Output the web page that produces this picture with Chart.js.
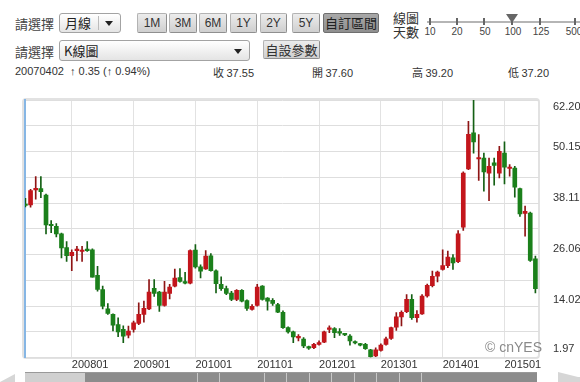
<!DOCTYPE html>
<html><head><meta charset="utf-8">
<script src="https://cdn.jsdelivr.net/npm/chart.js@4.4.1/dist/chart.umd.min.js"></script>
<style>
body{margin:0;width:580px;height:382px;overflow:hidden;background:#fff;font-family:"Liberation Sans",Arial,sans-serif;color:#333;position:relative;}
.a{position:absolute;white-space:nowrap;}
.cjk{font-family:"Noto Sans CJK TC","Liberation Sans",sans-serif;}
.sel{position:absolute;border:1px solid #a3a3a3;border-radius:3px;background:linear-gradient(#ffffff,#e4e4e4);box-sizing:border-box;}
.btn{position:absolute;top:13px;height:20px;box-sizing:border-box;border:1px solid #b3b3b3;border-right-color:#8f8f8f;border-bottom-color:#8f8f8f;border-radius:2px;background:linear-gradient(#ececec,#cfcfcf);font-size:12px;line-height:18px;text-align:center;color:#333;}
.tick{position:absolute;top:18px;width:2px;height:7px;background:#666;}
.tl{position:absolute;top:26px;font-size:10px;width:24px;text-align:center;color:#444;}
</style>
</head><body>
<!-- header row 1 -->
<div class="a cjk" style="left:15px;top:14px;font-size:13px;color:#444;">請選擇</div>
<div class="sel" style="left:59px;top:13px;width:62px;height:20px;">
  <div class="a cjk" style="left:5px;top:0px;font-size:13px;line-height:18px;color:#222;">月線</div>
  <div class="a" style="left:38px;top:2px;width:1px;height:14px;background:#bbb;"></div>
  <div class="a" style="left:45px;top:7px;width:0;height:0;border-left:4px solid transparent;border-right:4px solid transparent;border-top:5px solid #222;"></div>
</div>
<div class="btn" style="left:137px;width:30px;">1M</div>
<div class="btn" style="left:169px;width:28px;">3M</div>
<div class="btn" style="left:199px;width:28px;">6M</div>
<div class="btn" style="left:230px;width:27px;">1Y</div>
<div class="btn" style="left:260px;width:27px;">2Y</div>
<div class="btn" style="left:292px;width:28px;">5Y</div>
<div class="btn cjk" style="left:323px;width:56px;background:linear-gradient(#a8a8a8,#8e8e8e);border-color:#6f6f6f;font-size:13px;color:#222;">自訂區間</div>
<div class="a cjk" style="left:393px;top:11px;font-size:13px;line-height:14px;color:#333;">線圖<br>天數</div>
<div class="a" style="left:427px;top:21px;width:153px;height:2px;background:#b5b5b5;"></div>
<div class="tick" style="left:429px;"></div>
<div class="tick" style="left:456px;"></div>
<div class="tick" style="left:483px;"></div>
<div class="tick" style="left:511px;"></div>
<div class="tick" style="left:539px;"></div>
<div class="tick" style="left:574px;"></div>
<div class="a" style="left:506px;top:14px;width:0;height:0;border-left:6px solid transparent;border-right:6px solid transparent;border-top:9px solid #666;"></div>
<div class="tl" style="left:418px;">10</div>
<div class="tl" style="left:445px;">20</div>
<div class="tl" style="left:473px;">50</div>
<div class="tl" style="left:501px;">100</div>
<div class="tl" style="left:529px;">125</div>
<div class="tl" style="left:562px;">500</div>
<!-- header row 2 -->
<div class="a cjk" style="left:15px;top:42px;font-size:13px;color:#444;">請選擇</div>
<div class="sel" style="left:59px;top:40px;width:191px;height:21px;">
  <div class="a cjk" style="left:4px;top:0px;font-size:13px;line-height:19px;color:#222;">K線圖</div>
  <div class="a" style="left:174px;top:8px;width:0;height:0;border-left:4px solid transparent;border-right:4px solid transparent;border-top:5px solid #222;"></div>
</div>
<div class="btn cjk" style="left:263px;top:40px;width:57px;height:19px;font-size:13px;line-height:17px;">自設參數</div>
<!-- header row 3 -->
<div class="a" style="left:15px;top:65px;font-size:11px;color:#333;">20070402</div>
<div class="a" style="left:70px;top:65px;font-size:11px;color:#333;">↑ 0.35 (↑ 0.94%)</div>
<div class="a cjk" style="left:213px;top:64px;font-size:11px;color:#333;">收 <span style="font-family:'Liberation Sans'">37.55</span></div>
<div class="a cjk" style="left:312px;top:64px;font-size:11px;color:#333;">開 <span style="font-family:'Liberation Sans'">37.60</span></div>
<div class="a cjk" style="left:412px;top:64px;font-size:11px;color:#333;">高 <span style="font-family:'Liberation Sans'">39.20</span></div>
<div class="a cjk" style="left:508px;top:64px;font-size:11px;color:#333;">低 <span style="font-family:'Liberation Sans'">37.20</span></div>
<!-- plot frame -->
<div class="a" style="left:22px;top:98px;width:514px;height:257px;border:2px solid #e2e2e2;border-radius:4px;"></div>
<canvas id="c" width="580" height="277" style="position:absolute;left:0;top:95px;"></canvas>
<div class="a" style="left:485px;top:339px;font-size:14px;color:#8a8a8a;">© cnYES</div>
<!-- scrollbar -->
<div class="a" style="left:25px;top:372px;width:512px;height:10px;background:#d0d0d0;border-top:1px solid #999;box-sizing:border-box;"></div>
<div class="a" style="left:85px;top:373px;width:452px;height:9px;background:#8c8c8c;"></div>
<div class="a" style="left:175px;top:373px;width:250px;height:9px;background:repeating-linear-gradient(90deg,transparent 0,transparent 21.5px,#c8c8c8 21.5px,#c8c8c8 22.5px);"></div>
<div class="a" style="left:0px;top:374px;width:0;height:0;border-top:8px solid transparent;border-right:15px solid #d6d6d6;"></div>
<div class="a" style="left:558px;top:372px;width:0;height:0;border-top:5px solid transparent;border-bottom:5px solid transparent;border-left:20px solid #d6d6d6;"></div>
<div class="a" style="left:558px;top:377px;width:22px;height:5px;background:#d6d6d6;"></div>
<script>
const months = [
 '200704','200705','200706','200707','200708','200709','200710','200711','200712',
 '200801','200802','200803','200804','200805','200806','200807','200808','200809','200810','200811','200812',
 '200901','200902','200903','200904','200905','200906','200907','200908','200909','200910','200911','200912',
 '201001','201002','201003','201004','201005','201006','201007','201008','201009','201010','201011','201012',
 '201101','201102','201103','201104','201105','201106','201107','201108','201109','201110','201111','201112',
 '201201','201202','201203','201204','201205','201206','201207','201208','201209','201210','201211','201212',
 '201301','201302','201303','201304','201305','201306','201307','201308','201309','201310','201311','201312',
 '201401','201402','201403','201404','201405','201406','201407','201408','201409','201410','201411','201412',
 '201501','201502','201503','201504','201505','201506','201507'
];
const openP = [
 37.60,37.69,41.2,41.5,40.0,33.0,32.7,30.9,27.7,25.8,27.0,26.8,27.3,27.2,21.2,17.9,13.4,12.1,9.7,8.6,
 7.25,8.6,10.0,12.1,13.4,18.2,17.3,14.2,17.0,18.7,20.7,19.5,19.4,27.1,23.2,22.7,25.8,22.3,19.1,18.1,
 17.1,15.6,17.7,15.3,13.25,14.2,18.7,15.9,15.35,14.4,12.6,9.0,8.0,6.6,6.3,4.4,4.3,5.1,5.6,8.6,
 8.75,7.9,7.5,7.0,5.7,5.2,5.1,3.8,2.4,3.7,5.1,6.5,9.1,11.5,12.7,15.6,11.3,12.2,16.4,18.8,
 21.0,22.6,23.5,25.3,24.4,32.45,46.1,54.5,48.4,48.6,45.1,47.5,45.1,49.8,46.2,46.3,41.5,35.7,35.8,25.1
];
const highP = [
 39.20,41.3,44.3,44.3,40.2,34.0,33.3,31.1,29.1,27.2,28.0,28.0,29.1,27.4,23.3,18.7,14.6,12.2,11.3,9.4,
 9.35,10.5,14.8,15.2,20.2,20.2,17.5,19.8,19.1,22.7,22.8,21.9,27.2,28.4,23.7,27.0,26.3,22.5,20.9,18.7,
 17.5,17.9,17.9,15.5,14.4,19.1,18.8,16.0,15.8,14.65,12.9,9.2,8.2,7.4,6.65,4.7,5.3,5.9,8.2,9.4,
 9.0,8.75,7.6,7.35,5.9,5.3,5.3,3.9,4.3,5.2,6.8,9.1,12.5,12.9,16.7,16.7,13.0,16.7,19.2,22.2,
 22.2,27.2,26.9,26.1,31.7,45.4,57.2,62.2,54.1,49.8,48.6,48.6,51.4,52.4,47.1,46.7,41.6,37.4,36.0,25.7
];
const lowP = [
 37.20,37.14,39.0,39.4,30.9,31.2,30.2,25.3,24.5,22.3,24.6,24.5,26.8,20.8,17.5,13.4,12.1,8.2,6.9,5.5,
 6.6,7.95,9.7,10.3,13.2,16.3,12.8,14.0,15.7,18.5,19.6,19.2,19.2,22.9,20.6,22.6,22.2,17.1,17.7,16.7,
 15.3,15.3,15.0,13.0,13.1,14.0,15.4,13.1,14.2,12.5,8.8,7.7,5.5,5.9,4.3,3.9,4.1,4.9,5.5,7.8,
 6.65,7.2,7.1,4.9,5.2,4.7,3.9,2.1,2.2,3.5,4.9,6.25,8.35,9.4,12.5,10.9,10.3,12.1,16.1,18.5,
 19.7,22.4,23.0,22.6,24.2,31.7,45.9,49.8,43.4,40.9,38.7,42.3,44.0,42.6,44.4,39.5,35.0,30.4,24.5,17.1
];
const closeP = [
 37.55,41.02,41.5,40.8,33.0,32.8,30.9,27.6,25.8,26.6,27.3,27.1,27.0,20.8,17.9,14.0,12.3,9.6,8.0,7.0,
 8.2,10.1,12.1,13.5,17.3,17.0,14.2,17.3,18.5,20.6,19.8,19.4,27.0,23.2,22.2,25.7,22.3,19.3,18.1,17.0,
 15.6,17.7,15.2,13.5,14.0,18.5,15.6,15.2,14.65,12.6,9.0,8.0,6.8,6.8,4.7,4.2,5.1,5.5,8.0,8.9,
 7.8,7.7,7.3,5.9,5.4,4.9,4.1,2.2,3.8,4.9,6.4,9.0,11.5,12.6,15.6,11.3,12.1,16.4,18.9,21.0,
 22.0,23.5,25.5,24.1,30.9,45.1,54.2,52.4,48.7,45.4,46.7,46.9,50.2,46.5,46.5,41.8,35.6,36.2,24.7,18.1
];
const xTickLabels = ['200801','200901','201001','201101','201201','201301','201401','201501'];
const yTickLabels = ['1.97','14.02','26.06','38.11','50.15','62.20'];

const UP = '#c3161c', UPW = '#8e1414', DN = '#1b801b', DNW = '#146014';
const isUp = closeP.map((c, i) => c > openP[i]);
const yMin = parseFloat(yTickLabels[0]);
const yMax = parseFloat(yTickLabels[yTickLabels.length - 1]);
const plotH = 257.7;
const unitsPerPx = (yMax - yMin) / plotH;
const labelShiftPx = [8.5, 6, 5.5, 5.5, 5, -6.7];
const noPad = s => { s.paddingTop = 0; s.paddingBottom = 0; s.paddingLeft = 0; s.paddingRight = 0; };

new Chart(document.getElementById('c'), {
  type: 'bar',
  data: {
    datasets: [
      {
        data: months.map((m, i) => ({ x: i, y: [openP[i], closeP[i]] })),
        backgroundColor: isUp.map(u => u ? UP : DN),
        borderWidth: 0,
        barThickness: 4,
        minBarLength: 1.5,
        grouped: false,
        order: 0
      },
      {
        data: months.map((m, i) => ({ x: i, y: [lowP[i], highP[i]] })),
        backgroundColor: isUp.map(u => u ? UPW : DNW),
        borderWidth: 0,
        barThickness: 1,
        grouped: false,
        order: 1
      }
    ]
  },
  options: {
    responsive: false,
    animation: false,
    devicePixelRatio: 1,
    layout: { padding: { top: 5, left: 25, right: 0, bottom: 0 } },
    plugins: { legend: { display: false }, tooltip: { enabled: false } },
    scales: {
      x: {
        type: 'linear',
        min: -0.08, max: 99.7,
        offset: false,
        grid: { offset: false, color: '#e2e2e2', lineWidth: 1, drawTicks: false },
        border: { display: false },
        afterBuildTicks: s => { s.ticks = xTickLabels.map(l => ({ value: months.indexOf(l) })); },
        afterFit: s => { s.height = 14.3; noPad(s); },
        ticks: {
          autoSkip: false, maxRotation: 0, align: 'start', padding: 1,
          color: '#333', font: { family: 'Liberation Sans', size: 11 },
          callback: v => months[v]
        }
      },
      y: {
        type: 'linear', position: 'left',
        min: yMin, max: yMax,
        grid: { color: '#dedede', lineWidth: 1, drawTicks: false },
        border: { display: true, color: '#86b6e4', width: 2 },
        ticks: { display: false },
        afterBuildTicks: s => {
          const t = [];
          for (let i = 0; i < yTickLabels.length; i++) {
            const v = parseFloat(yTickLabels[i]);
            t.push({ value: v });
            if (i < yTickLabels.length - 1) t.push({ value: (v + parseFloat(yTickLabels[i + 1])) / 2 });
          }
          s.ticks = t;
        },
        afterFit: s => { s.width = 0; noPad(s); }
      },
      y2: {
        type: 'linear', position: 'right',
        min: yMin, max: yMax,
        grid: { display: false },
        border: { display: false },
        afterBuildTicks: s => {
          s.ticks = yTickLabels.map((l, i) => ({ value: parseFloat(l) + labelShiftPx[i] * unitsPerPx }));
        },
        afterFit: s => { s.width = 41; noPad(s); },
        ticks: {
          padding: 6, color: '#333', font: { family: 'Liberation Sans', size: 11 },
          callback: (v, i) => yTickLabels[i]
        }
      }
    }
  }
});
</script>
</body></html>
